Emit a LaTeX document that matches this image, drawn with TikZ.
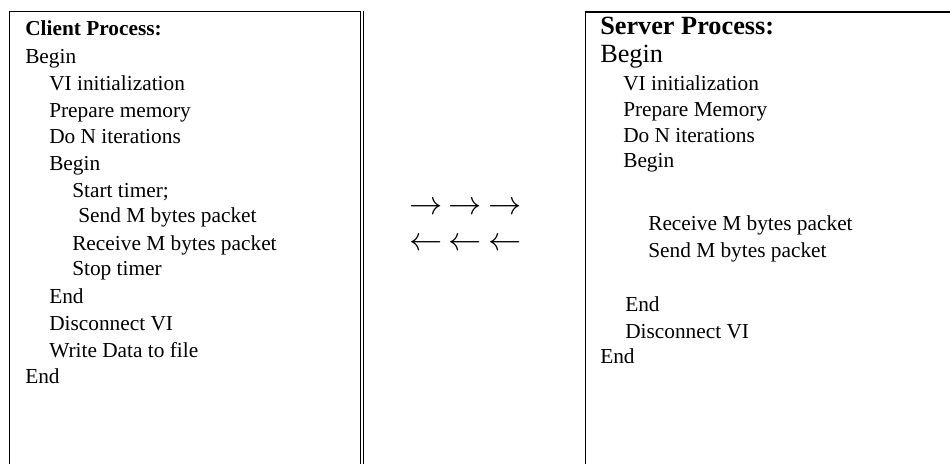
\documentclass[tikz,border=0pt]{standalone}
\usepackage{fontspec}
\setmainfont{Liberation Serif}
\begin{document}
\begin{tikzpicture}[x=0.75pt,y=-0.75pt,
  txt/.style={anchor=base west, inner sep=0pt, font=\fontsize{16}{19}\selectfont},
  big/.style={anchor=base west, inner sep=0pt, font=\fontsize{19.7}{23}\selectfont},
  ttl/.style={anchor=base west, inner sep=0pt, font=\fontsize{16}{19}\selectfont\bfseries},
  bigttl/.style={anchor=base west, inner sep=0pt, font=\fontsize{19.7}{23}\selectfont\bfseries},
  frame/.style={line width=1pt, line cap=rect},
  arr/.style={inner sep=0pt, font=\fontsize{24.5}{27}\selectfont}]
\useasboundingbox (0,0) rectangle (950,464);
\clip (0,0) rectangle (950,464);
% client frame
\draw[frame] (9.5,480) -- (9.5,11.5) -- (360.5,11.5) -- (360.5,480);
\draw[frame] (363.2,11.5) -- (363.2,480);
% server frame
\draw[frame] (585.5,480) -- (585.5,12) -- (970,12);
% client text
\node[ttl] (c0) at (25,36) {Client Process:};
\node[txt] (c1) at (25,63) {Begin};
\node[txt] (c2) at (49,90) {VI initialization};
\node[txt] (c3) at (49,117) {Prepare memory};
\node[txt] (c4) at (49,143) {Do N iterations};
\node[txt] (c5) at (49,170) {Begin};
\node[txt] (c6) at (72,197) {Start timer;};
\node[txt] (c7) at (78,222) {Send M bytes packet};
\node[txt] (c8) at (72,250) {Receive M bytes packet};
\node[txt] (c9) at (72,275) {Stop timer};
\node[txt] (c10) at (49,303) {End};
\node[txt] (c11) at (49,330) {Disconnect VI};
\node[txt] (c12) at (49,357) {Write Data to file};
\node[txt] (c13) at (25,383) {End};
% arrows
\node[arr] (a1) at (426,208) {$\rightarrow$};
\node[arr] (a2) at (465.5,208) {$\rightarrow$};
\node[arr] (a3) at (505.5,208) {$\rightarrow$};
\node[arr] (a4) at (426,244) {$\leftarrow$};
\node[arr] (a5) at (465.5,244) {$\leftarrow$};
\node[arr] (a6) at (505.5,244) {$\leftarrow$};
% server text
\node[bigttl] (s0) at (600,35) {Server Process:};
\node[big] (s1) at (600,62) {Begin};
\node[txt] (s2) at (623,90) {VI initialization};
\node[txt] (s3) at (623,116) {Prepare Memory};
\node[txt] (s4) at (623,142) {Do N iterations};
\node[txt] (s5) at (623,167) {Begin};
\node[txt] (s6) at (648,230) {Receive M bytes packet};
\node[txt] (s7) at (648,257) {Send M bytes packet};
\node[txt] (s8) at (625,311) {End};
\node[txt] (s9) at (625,338) {Disconnect VI};
\node[txt] (s10) at (600,363) {End};
\end{tikzpicture}
\end{document}
